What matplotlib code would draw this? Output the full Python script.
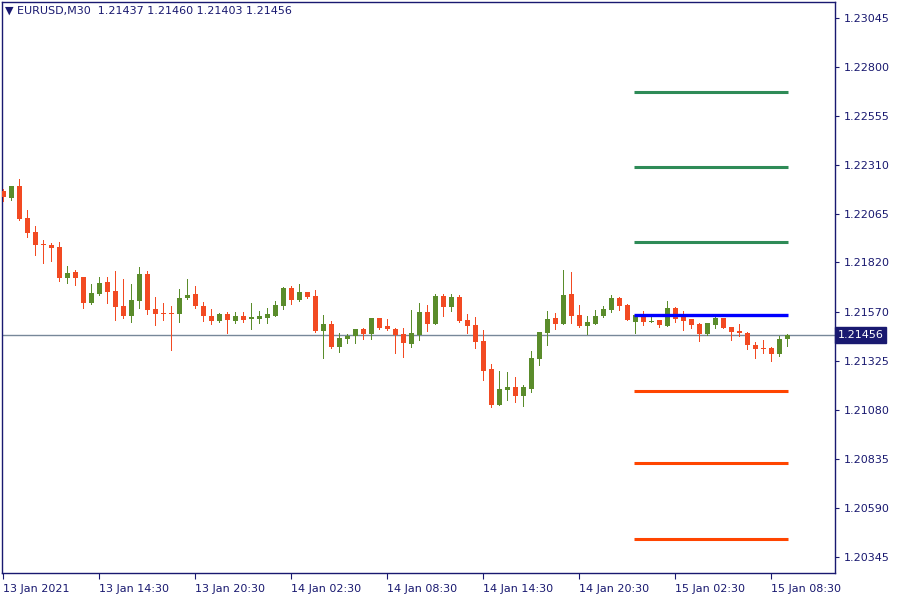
#!/usr/bin/env python3
from __future__ import annotations

import matplotlib

matplotlib.use("Agg")
import matplotlib.pyplot as plt

# EURUSD M30 candles
opens = [
    1.22178, 1.22145, 1.22203, 1.22043, 1.21973, 1.21913, 1.21908, 1.21898, 1.21744, 1.21773,
    1.21747, 1.21619, 1.21662, 1.21722, 1.21677, 1.21602, 1.21553, 1.21628, 1.21763, 1.21587,
    1.21567, 1.21567, 1.21563, 1.21642, 1.21662, 1.21602, 1.21552, 1.21528, 1.21562, 1.21528,
    1.21552, 1.21537, 1.21537, 1.21542, 1.21552, 1.21602, 1.21692, 1.21632, 1.21672, 1.21652,
    1.21477, 1.21512, 1.21397, 1.21437, 1.21452, 1.21487, 1.21462, 1.21542, 1.21502, 1.21487,
    1.21462, 1.21412, 1.21457, 1.21572, 1.21512, 1.21652, 1.21597, 1.21647, 1.21532, 1.21507,
    1.21427, 1.21287, 1.21107, 1.21182, 1.21197, 1.21152, 1.21187, 1.21337, 1.21467, 1.21542,
    1.21512, 1.21662, 1.21557, 1.21502, 1.21512, 1.21552, 1.21582, 1.21642, 1.21607, 1.21522,
    1.21557, 1.21522, 1.21532, 1.21502, 1.21592, 1.21547, 1.21537, 1.21512, 1.21462, 1.21507,
    1.21542, 1.21497, 1.21477, 1.21467, 1.21407, 1.21392, 1.21392, 1.21362, 1.21437,
]
highs = [
    1.22188, 1.22203, 1.22238, 1.22083, 1.22003, 1.21933, 1.21918, 1.21923, 1.21803, 1.21783,
    1.21747, 1.21712, 1.21747, 1.21747, 1.21778, 1.21737, 1.21712, 1.21797, 1.21778, 1.21649,
    1.21617, 1.21602, 1.21687, 1.21737, 1.21702, 1.21622, 1.21587, 1.21567, 1.21572, 1.21572,
    1.21572, 1.21617, 1.21577, 1.21592, 1.21627, 1.21697, 1.21702, 1.21712, 1.21672, 1.21682,
    1.21557, 1.21527, 1.21467, 1.21462, 1.21487, 1.21492, 1.21542, 1.21542, 1.21537, 1.21492,
    1.21492, 1.21582, 1.21617, 1.21607, 1.21662, 1.21662, 1.21662, 1.21657, 1.21562, 1.21547,
    1.21482, 1.21312, 1.21277, 1.21272, 1.21247, 1.21207, 1.21377, 1.21472, 1.21577, 1.21567,
    1.21783, 1.21773, 1.21607, 1.21552, 1.21582, 1.21602, 1.21657, 1.21647, 1.21612, 1.21557,
    1.21577, 1.21562, 1.21532, 1.21627, 1.21597, 1.21577, 1.21537, 1.21517, 1.21517, 1.21552,
    1.21542, 1.21497, 1.21512, 1.21472, 1.21422, 1.21432, 1.21397, 1.21452, 1.21460,
]
lows = [
    1.22130, 1.22135, 1.22033, 1.21949, 1.21859, 1.21819, 1.21829, 1.21729, 1.21719, 1.21709,
    1.21593, 1.21613, 1.21657, 1.21619, 1.21533, 1.21543, 1.21523, 1.21593, 1.21563, 1.21508,
    1.21533, 1.21383, 1.21523, 1.21637, 1.21593, 1.21527, 1.21513, 1.21523, 1.21468, 1.21518,
    1.21522, 1.21488, 1.21517, 1.21517, 1.21552, 1.21587, 1.21612, 1.21627, 1.21642, 1.21472,
    1.21342, 1.21392, 1.21372, 1.21417, 1.21417, 1.21437, 1.21437, 1.21487, 1.21482, 1.21367,
    1.21347, 1.21397, 1.21432, 1.21477, 1.21512, 1.21552, 1.21577, 1.21522, 1.21467, 1.21392,
    1.21232, 1.21097, 1.21107, 1.21132, 1.21122, 1.21102, 1.21172, 1.21307, 1.21407, 1.21487,
    1.21512, 1.21517, 1.21497, 1.21462, 1.21512, 1.21547, 1.21572, 1.21582, 1.21532, 1.21467,
    1.21507, 1.21522, 1.21497, 1.21502, 1.21522, 1.21482, 1.21492, 1.21427, 1.21457, 1.21492,
    1.21492, 1.21432, 1.21452, 1.21387, 1.21342, 1.21367, 1.21327, 1.21352, 1.21403,
]
closes = [
    1.22150, 1.22203, 1.22038, 1.21969, 1.21909, 1.21908, 1.21894, 1.21744, 1.21768, 1.21744,
    1.21619, 1.21667, 1.21717, 1.21674, 1.21598, 1.21553, 1.21632, 1.21763, 1.21583, 1.21563,
    1.21563, 1.21563, 1.21642, 1.21657, 1.21603, 1.21552, 1.21528, 1.21562, 1.21532, 1.21552,
    1.21532, 1.21547, 1.21552, 1.21562, 1.21607, 1.21692, 1.21632, 1.21672, 1.21647, 1.21477,
    1.21512, 1.21397, 1.21442, 1.21452, 1.21487, 1.21462, 1.21542, 1.21492, 1.21487, 1.21457,
    1.21417, 1.21467, 1.21572, 1.21512, 1.21652, 1.21597, 1.21647, 1.21527, 1.21502, 1.21422,
    1.21277, 1.21107, 1.21187, 1.21197, 1.21152, 1.21197, 1.21342, 1.21472, 1.21537, 1.21512,
    1.21657, 1.21552, 1.21502, 1.21522, 1.21552, 1.21587, 1.21642, 1.21602, 1.21532, 1.21557,
    1.21522, 1.21527, 1.21507, 1.21592, 1.21537, 1.21527, 1.21507, 1.21462, 1.21517, 1.21542,
    1.21492, 1.21472, 1.21467, 1.21407, 1.21387, 1.21387, 1.21362, 1.21437, 1.21456,
]

# horizontal levels drawn over the last bars
resistance_levels = [1.22674, 1.22299, 1.21923]
pivot_level = 1.21555
support_levels = [1.21176, 1.20816, 1.20435]
level_first_bar = 79
level_last_bar = 98

price_ticks = [1.23045, 1.22800, 1.22555, 1.22310, 1.22065, 1.21820,
               1.21570, 1.21325, 1.21080, 1.20835, 1.20590, 1.20345]
time_tick_bars = [0, 12, 24, 36, 48, 60, 72, 84, 96]
time_tick_labels = ["13 Jan 2021", "13 Jan 14:30", "13 Jan 20:30", "14 Jan 02:30",
                    "14 Jan 08:30", "14 Jan 14:30", "14 Jan 20:30", "15 Jan 02:30",
                    "15 Jan 08:30"]

NAVY = "#191970"
BULL = "#5a8c2b"
BEAR = "#f24a22"


def main() -> None:
    plt.rcParams["font.family"] = ["DejaVu Sans"]
    fig = plt.figure(figsize=(9, 6), dpi=100)
    ax = fig.add_axes([2 / 900, 27 / 600, 833 / 900, 571 / 600])

    n = len(closes)
    xs = list(range(n))
    min_body = 0.00005

    # wicks: 1 px, no smoothing, like the terminal draws them
    colors = [BULL if c > o else BEAR for o, c in zip(opens, closes)]
    ax.vlines(xs, lows, highs, colors=colors, linewidth=0.72, antialiased=False, zorder=3)

    # bodies
    bottoms = [min(o, c) for o, c in zip(opens, closes)]
    heights = [max(abs(c - o), min_body) for o, c in zip(opens, closes)]
    ax.bar(xs, heights, bottom=bottoms, width=0.65, color=colors,
           linewidth=0, antialiased=False, zorder=4)

    # current price line
    last = closes[-1]
    ax.axhline(last, color="#778899", linewidth=1.0, zorder=2)

    x0 = level_first_bar - 0.2
    x1 = level_last_bar + 0.1
    ax.hlines(resistance_levels, x0, x1, colors="#2e8b57", linewidth=2.2, zorder=5)
    ax.hlines([pivot_level], x0, x1, colors="#0000ff", linewidth=2.4, zorder=5)
    ax.hlines(support_levels, x0, x1, colors="#ff4500", linewidth=2.2, zorder=5)

    ax.set_xlim(-0.1875, 103.94)
    ax.set_ylim(1.20264, 1.23125)

    ax.set_yticks(price_ticks)
    ax.set_yticklabels([f"{p:.5f}" for p in price_ticks])
    ax.set_xticks(time_tick_bars)
    ax.set_xticklabels(time_tick_labels, ha="left")

    ax.yaxis.tick_right()
    ax.tick_params(axis="y", which="both", direction="out", length=3, width=0.8,
                   color=NAVY, labelcolor=NAVY, labelsize=8, pad=3, left=False)
    ax.tick_params(axis="x", which="both", direction="out", length=4, width=0.8,
                   color=NAVY, labelcolor=NAVY, labelsize=8, pad=4, top=False)
    for sp in ax.spines.values():
        sp.set_color(NAVY)
        sp.set_linewidth(1.0)

    # price tag for the last close
    ax.text(1.003, last, f"{last:.5f}", transform=ax.get_yaxis_transform(),
            ha="left", va="center", fontsize=8, color="white", zorder=10,
            bbox=dict(boxstyle="square,pad=0.25", facecolor=NAVY, edgecolor=NAVY),
            clip_on=False)

    ax.text(0.004, 0.993,
            f"\u25bc EURUSD,M30  {opens[-1]:.5f} {highs[-1]:.5f} {lows[-1]:.5f} {closes[-1]:.5f}",
            transform=ax.transAxes, ha="left", va="top", fontsize=8, color=NAVY)

    fig.savefig("out.png", dpi=100, facecolor="white")
    plt.close(fig)


if __name__ == "__main__":
    main()
